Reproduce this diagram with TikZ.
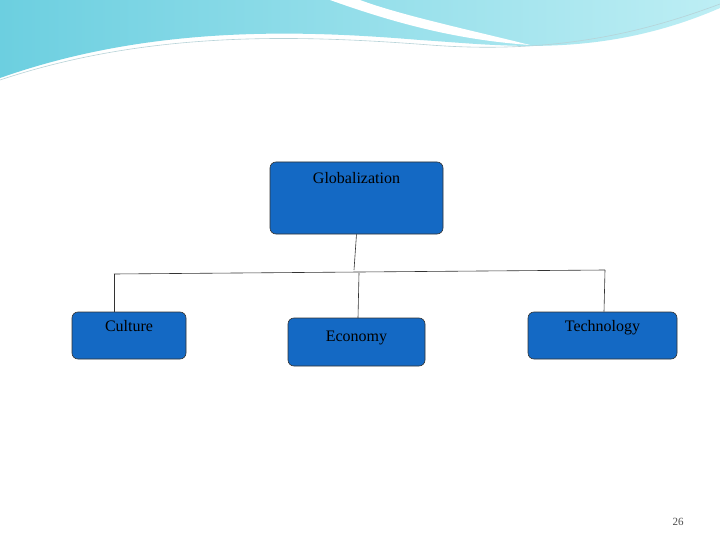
\documentclass[tikz,border=0pt]{standalone}
\usepackage{fontspec}
\setmainfont{Liberation Serif}
\begin{document}
\begin{tikzpicture}[x=1pt,y=-1pt,
  box/.style={draw=black!80,fill=boxblue,rounded corners=6pt,line width=0.6pt},
  lbl/.style={font=\fontsize{16}{18}\selectfont},
  conn/.style={draw=black!80,line width=0.6pt}]
\definecolor{boxblue}{HTML}{1469C4}
\definecolor{waveA}{HTML}{6CCFE0}
\definecolor{waveB}{HTML}{BDEEF4}
\useasboundingbox (0,0) rectangle (720,540);
\fill[white] (0,0) rectangle (720,540);
% top wave
\shade[left color=waveA,right color=waveB] (0,0) -- (720,0) -- (720,8)
  .. controls (600,60) and (500,45) .. (420,40)
  .. controls (300,30) and (150,25) .. (0,78) -- cycle;
\fill[white] (330,0) .. controls (400,25) and (460,40) .. (530,45)
  .. controls (470,30) and (400,15) .. (360,0) -- cycle;
\draw[waveA!70!black!40!white,line width=0.6pt] (0,80) .. controls (150,30) and (300,35) .. (430,45) .. controls (560,55) and (650,30) .. (720,4);
% boxes
\node[box,minimum width=173pt,minimum height=72pt] (g) at (356.5,198) {};
\node[lbl,anchor=north] at (g.north) [yshift=-7pt] {Globalization};
\node[box,minimum width=114pt,minimum height=47pt] (c) at (129,335.5) {};
\node[lbl,anchor=north] at (c.north) [yshift=-5pt] {Culture};
\node[box,minimum width=137pt,minimum height=48pt] (e) at (356.5,342) {};
\node[lbl] at (e.center) [yshift=4pt] {Economy};
\node[box,minimum width=149pt,minimum height=47pt] (t) at (602.5,335.5) {};
\node[lbl,anchor=north] at (t.north) [yshift=-5pt] {Technology};
% connectors
\coordinate (j) at (354,270);
\coordinate (l) at (114,274);
\coordinate (r) at (605,270);
\coordinate (m) at (359,273);
\draw[conn] (g.south) -- (j);
\draw[conn] (l) -- (r);
\draw[conn] (l) -- (c.north -| l);
\draw[conn] (m) -- (358,318);
\draw[conn] (r) -- (t.north -| 604,0);
\node[font=\fontsize{11}{12}\selectfont,text=black!70] (p) at (678,522) {26};
\end{tikzpicture}
\end{document}
